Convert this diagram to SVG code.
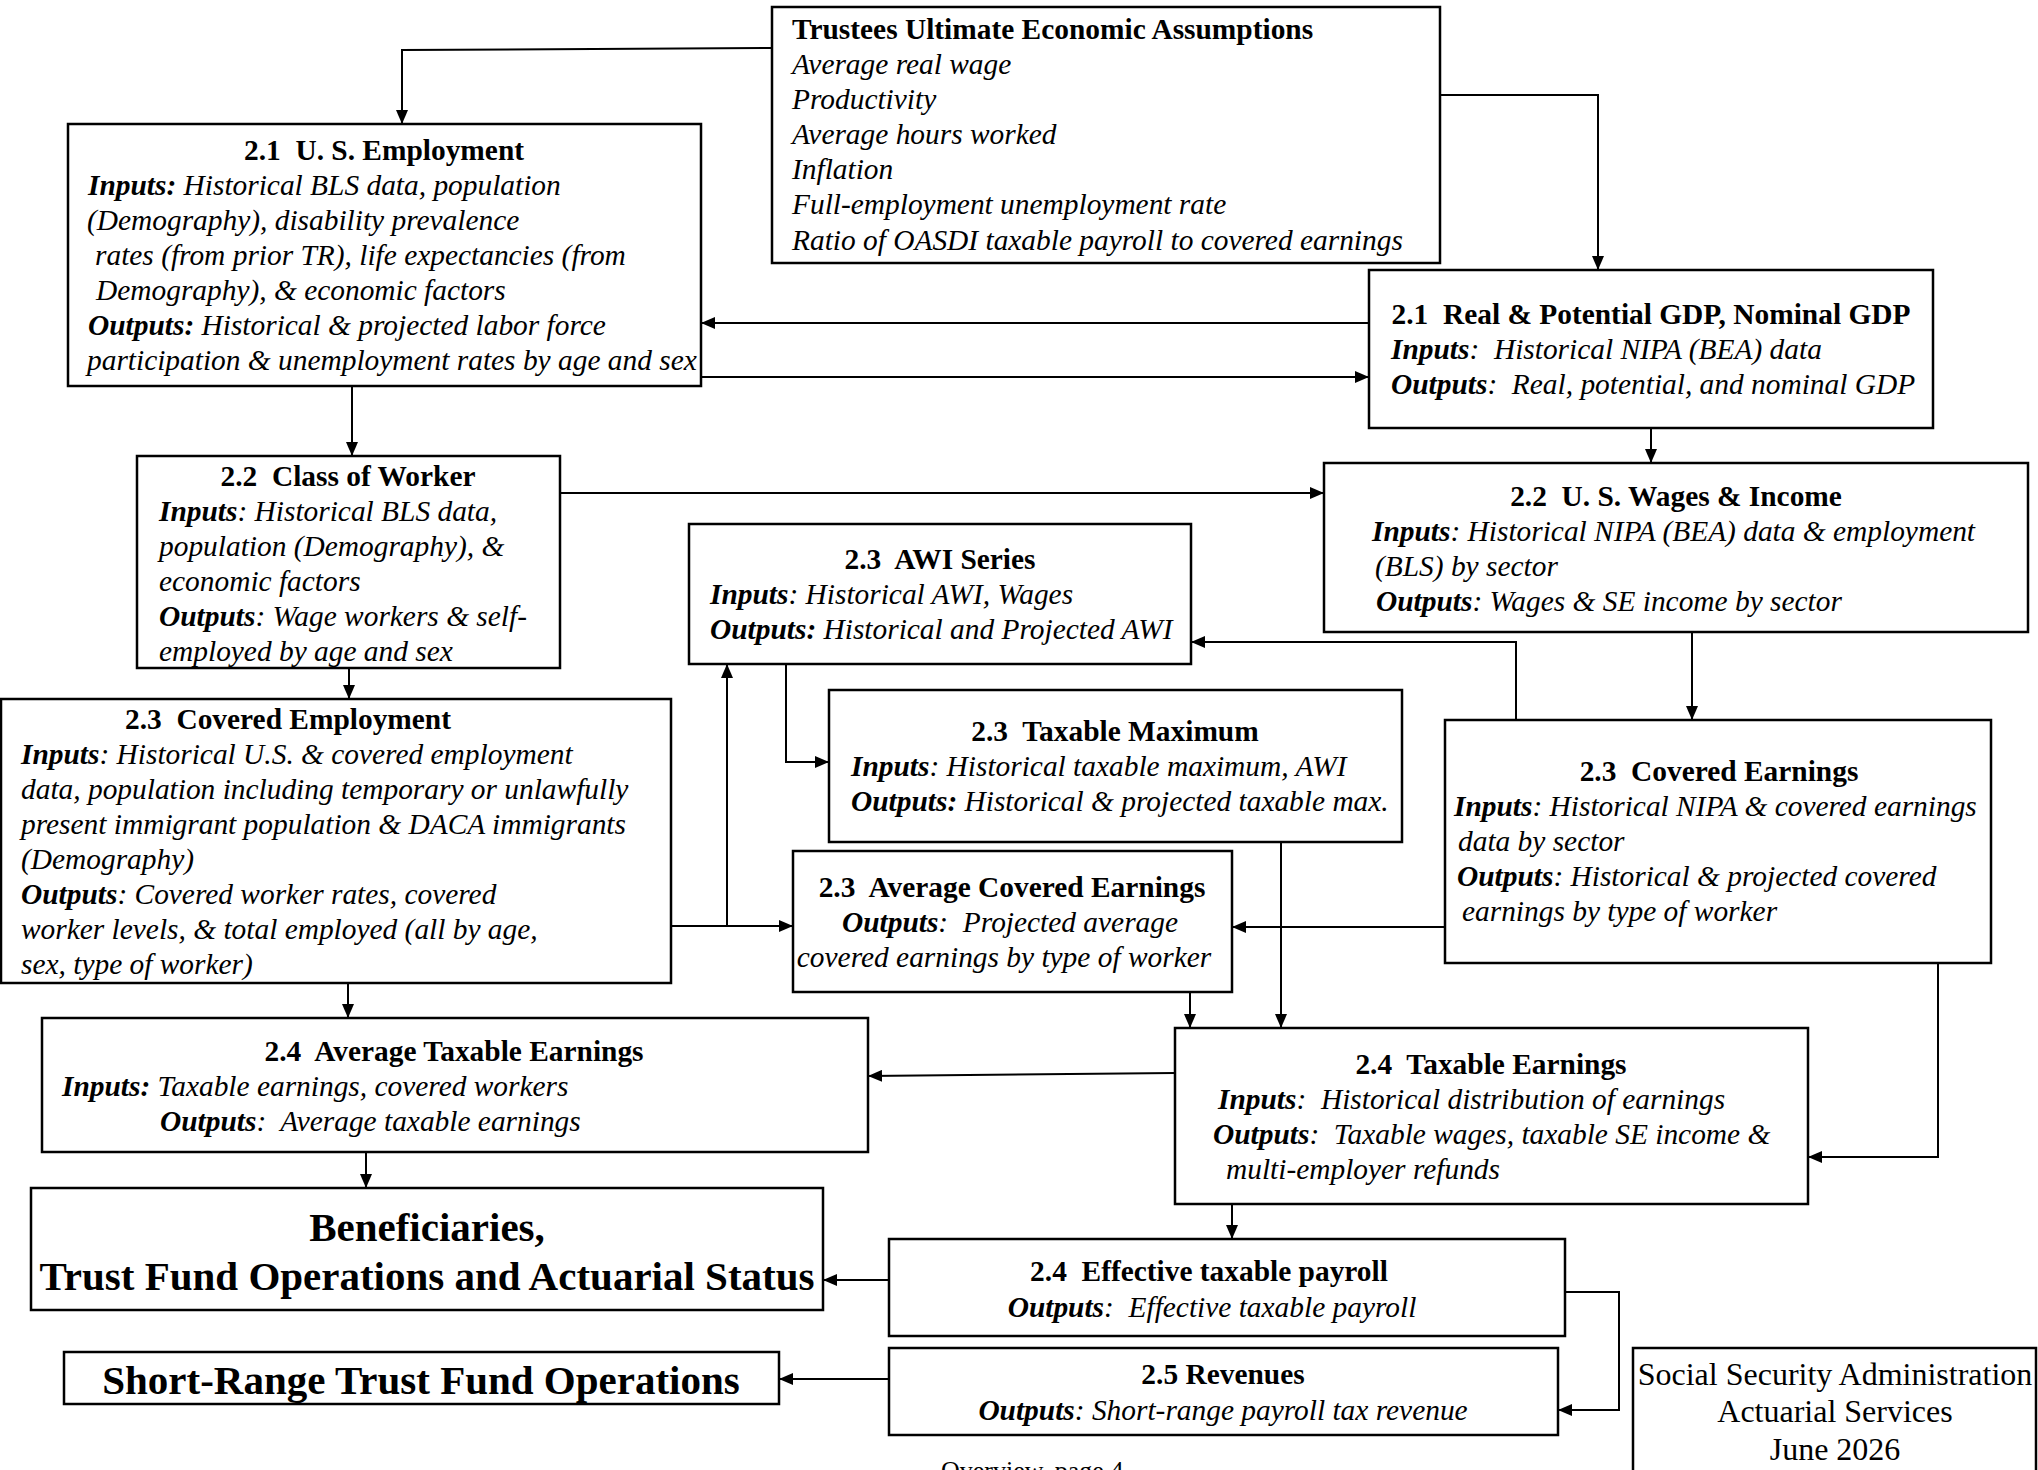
<svg xmlns="http://www.w3.org/2000/svg" width="2038" height="1470" viewBox="0 0 2038 1470">
<style>
.box{fill:#fff;stroke:#000;stroke-width:2.5}
text{font-family:"Liberation Serif","Times New Roman",serif;font-size:29.4px;fill:#000;white-space:pre}
.h{font-weight:bold}
.i{font-style:italic}
.b{font-weight:bold}
.c{text-anchor:middle}
.big{font-size:41px;font-weight:bold}
.ssa{font-size:32px}
.conn path{fill:none;stroke:#000;stroke-width:2}
</style>
<defs>
<marker id="ah" viewBox="0 0 14 12" markerWidth="14" markerHeight="12" refX="14" refY="6" orient="auto" markerUnits="userSpaceOnUse">
<path d="M0,0 L14,6 L0,12 z" fill="#000"/>
</marker>
</defs>
<rect width="2038" height="1470" fill="#fff"/>

<g class="conn">
<path d="M772,48 L402,50 V124" marker-end="url(#ah)"/>
<path d="M1440,95 H1598 V270" marker-end="url(#ah)"/>
<path d="M1369,323 H701" marker-end="url(#ah)"/>
<path d="M701,377 H1369" marker-end="url(#ah)"/>
<path d="M352,386 V456" marker-end="url(#ah)"/>
<path d="M1651,428 V463" marker-end="url(#ah)"/>
<path d="M560,493 H1324" marker-end="url(#ah)"/>
<path d="M349,668 V699" marker-end="url(#ah)"/>
<path d="M671,926 H793" marker-end="url(#ah)"/>
<path d="M727,926 V664" marker-end="url(#ah)"/>
<path d="M786,664 V762 H829" marker-end="url(#ah)"/>
<path d="M1516,720 V642 H1191" marker-end="url(#ah)"/>
<path d="M1692,632 V720" marker-end="url(#ah)"/>
<path d="M1445,927 H1232" marker-end="url(#ah)"/>
<path d="M1281,834 V1028" marker-end="url(#ah)"/>
<path d="M1190,992 V1028" marker-end="url(#ah)"/>
<path d="M1175,1073 L868,1076" marker-end="url(#ah)"/>
<path d="M348,983 V1018" marker-end="url(#ah)"/>
<path d="M1938,963 V1157 H1808" marker-end="url(#ah)"/>
<path d="M366,1152 V1188" marker-end="url(#ah)"/>
<path d="M1232,1204 V1239" marker-end="url(#ah)"/>
<path d="M889,1280 H823" marker-end="url(#ah)"/>
<path d="M1565,1292 H1619 V1410 H1558" marker-end="url(#ah)"/>
<path d="M889,1379 H779" marker-end="url(#ah)"/>
</g>

<g id="trustees">
<rect class="box" x="772" y="7" width="668" height="256"/>
<text x="792" y="39" class="h">Trustees Ultimate Economic Assumptions</text>
<text x="792" y="74" class="i">Average real wage</text>
<text x="792" y="109" class="i">Productivity</text>
<text x="792" y="144" class="i">Average hours worked</text>
<text x="792" y="179" class="i">Inflation</text>
<text x="792" y="214" class="i">Full-employment unemployment rate</text>
<text x="792" y="250" class="i">Ratio of OASDI taxable payroll to covered earnings</text>
</g>

<g id="us-employment">
<rect class="box" x="68" y="124" width="633" height="262"/>
<text x="384" y="160" class="h c">2.1  U. S. Employment</text>
<text x="88" y="195" class="i"><tspan class="b">Inputs:</tspan> Historical BLS data, population</text>
<text x="87" y="230" class="i">(Demography), disability prevalence</text>
<text x="95" y="265" class="i">rates (from prior TR), life expectancies (from</text>
<text x="96" y="300" class="i">Demography), &amp; economic factors</text>
<text x="88" y="335" class="i"><tspan class="b">Outputs:</tspan> Historical &amp; projected labor force</text>
<text x="87" y="370" class="i">participation &amp; unemployment rates by age and sex</text>
</g>

<g id="gdp">
<rect class="box" x="1369" y="270" width="564" height="158"/>
<text x="1651" y="324" class="h c">2.1  Real &amp; Potential GDP, Nominal GDP</text>
<text x="1391" y="359" class="i"><tspan class="b">Inputs</tspan>:  Historical NIPA (BEA) data</text>
<text x="1391" y="394" class="i"><tspan class="b">Outputs</tspan>:  Real, potential, and nominal GDP</text>
</g>

<g id="class-of-worker">
<rect class="box" x="137" y="456" width="423" height="212"/>
<text x="348" y="486" class="h c">2.2  Class of Worker</text>
<text x="159" y="521" class="i"><tspan class="b">Inputs</tspan>: Historical BLS data,</text>
<text x="159" y="556" class="i">population (Demography), &amp;</text>
<text x="159" y="591" class="i">economic factors</text>
<text x="159" y="626" class="i"><tspan class="b">Outputs</tspan>: Wage workers &amp; self-</text>
<text x="159" y="661" class="i">employed by age and sex</text>
</g>

<g id="wages-income">
<rect class="box" x="1324" y="463" width="704" height="169"/>
<text x="1676" y="506" class="h c">2.2  U. S. Wages &amp; Income</text>
<text x="1372" y="541" class="i"><tspan class="b">Inputs</tspan>: Historical NIPA (BEA) data &amp; employment</text>
<text x="1375" y="576" class="i">(BLS) by sector</text>
<text x="1376" y="611" class="i"><tspan class="b">Outputs</tspan>: Wages &amp; SE income by sector</text>
</g>

<g id="awi-series">
<rect class="box" x="689" y="524" width="502" height="140"/>
<text x="940" y="569" class="h c">2.3  AWI Series</text>
<text x="710" y="604" class="i"><tspan class="b">Inputs</tspan>: Historical AWI, Wages</text>
<text x="710" y="639" class="i"><tspan class="b">Outputs:</tspan> Historical and Projected AWI</text>
</g>

<g id="covered-employment">
<rect class="box" x="1" y="699" width="670" height="284"/>
<text x="125" y="729" class="h">2.3  Covered Employment</text>
<text x="21" y="764" class="i"><tspan class="b">Inputs</tspan>: Historical U.S. &amp; covered employment</text>
<text x="21" y="799" class="i">data, population including temporary or unlawfully</text>
<text x="21" y="834" class="i">present immigrant population &amp; DACA immigrants</text>
<text x="21" y="869" class="i">(Demography)</text>
<text x="21" y="904" class="i"><tspan class="b">Outputs</tspan>: Covered worker rates, covered</text>
<text x="21" y="939" class="i">worker levels, &amp; total employed (all by age,</text>
<text x="21" y="974" class="i">sex, type of worker)</text>
</g>

<g id="taxable-maximum">
<rect class="box" x="829" y="690" width="573" height="152"/>
<text x="1115" y="741" class="h c">2.3  Taxable Maximum</text>
<text x="851" y="776" class="i"><tspan class="b">Inputs</tspan>: Historical taxable maximum, AWI</text>
<text x="851" y="811" class="i"><tspan class="b">Outputs:</tspan> Historical &amp; projected taxable max.</text>
</g>

<g id="covered-earnings">
<rect class="box" x="1445" y="720" width="546" height="243"/>
<text x="1719" y="781" class="h c">2.3  Covered Earnings</text>
<text x="1454" y="816" class="i"><tspan class="b">Inputs</tspan>: Historical NIPA &amp; covered earnings</text>
<text x="1458" y="851" class="i">data by sector</text>
<text x="1457" y="886" class="i"><tspan class="b">Outputs</tspan>: Historical &amp; projected covered</text>
<text x="1462" y="921" class="i">earnings by type of worker</text>
</g>

<g id="avg-covered-earnings">
<rect class="box" x="793" y="851" width="439" height="141"/>
<text x="1012" y="897" class="h c">2.3  Average Covered Earnings</text>
<text x="1010" y="932" class="i c"><tspan class="b">Outputs</tspan>:  Projected average</text>
<text x="1004" y="967" class="i c">covered earnings by type of worker</text>
</g>

<g id="avg-taxable-earnings">
<rect class="box" x="42" y="1018" width="826" height="134"/>
<text x="454" y="1061" class="h c">2.4  Average Taxable Earnings</text>
<text x="62" y="1096" class="i"><tspan class="b">Inputs:</tspan> Taxable earnings, covered workers</text>
<text x="160" y="1131" class="i"><tspan class="b">Outputs</tspan>:  Average taxable earnings</text>
</g>

<g id="taxable-earnings">
<rect class="box" x="1175" y="1028" width="633" height="176"/>
<text x="1491" y="1074" class="h c">2.4  Taxable Earnings</text>
<text x="1218" y="1109" class="i"><tspan class="b">Inputs</tspan>:  Historical distribution of earnings</text>
<text x="1213" y="1144" class="i"><tspan class="b">Outputs</tspan>:  Taxable wages, taxable SE income &amp;</text>
<text x="1226" y="1179" class="i">multi-employer refunds</text>
</g>

<g id="beneficiaries">
<rect class="box" x="31" y="1188" width="792" height="122"/>
<text x="427" y="1241" class="big c">Beneficiaries,</text>
<text x="427" y="1290" class="big c">Trust Fund Operations and Actuarial Status</text>
</g>

<g id="effective-payroll">
<rect class="box" x="889" y="1239" width="676" height="97"/>
<text x="1209" y="1281" class="h c">2.4  Effective taxable payroll</text>
<text x="1212" y="1317" class="i c"><tspan class="b">Outputs</tspan>:  Effective taxable payroll</text>
</g>

<g id="short-range">
<rect class="box" x="64" y="1352" width="715" height="52"/>
<text x="421" y="1394" class="big c">Short-Range Trust Fund Operations</text>
</g>

<g id="revenues">
<rect class="box" x="889" y="1348" width="669" height="87"/>
<text x="1223" y="1384" class="h c">2.5 Revenues</text>
<text x="1223" y="1420" class="i c"><tspan class="b">Outputs</tspan>: Short-range payroll tax revenue</text>
</g>

<g id="ssa">
<rect class="box" x="1633" y="1348" width="403" height="135"/>
<text x="1835" y="1385" class="ssa c">Social Security Administration</text>
<text x="1835" y="1422" class="ssa c">Actuarial Services</text>
<text x="1835" y="1460" class="ssa c">June 2026</text>
</g>

<text x="941" y="1479" style="font-size:26px">Overview, page 4</text>
</svg>
